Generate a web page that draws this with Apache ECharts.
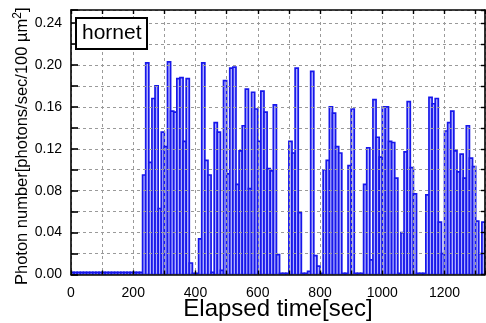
<!DOCTYPE html>
<html>
<head>
<meta charset="utf-8">
<script src="https://cdn.jsdelivr.net/npm/echarts@6/dist/echarts.min.js"></script>
<style>
  html, body { margin: 0; padding: 0; background: #fff; }
  #chart { width: 486px; height: 323px; }
</style>
</head>
<body>
<div id="chart"></div>
<script>
// bin width of the photon counting histogram (sec)
const BIN = 10

// photon number per bin, starting at t = 0 (one row = 100 sec)
const photons = [
  0.002, 0.002, 0.002, 0.002, 0.002, 0.002, 0.002, 0.002, 0.002, 0.002,
  0.002, 0.002, 0.002, 0.002, 0.002, 0.002, 0.002, 0.002, 0.002, 0.002,
  0.002, 0.002, 0.002, 0.095, 0.202, 0.107, 0.168, 0.180, 0.063, 0.136,
  0.122, 0.203, 0.156, 0.155, 0.187, 0.188, 0.127, 0.187, 0.011, 0.001,
  0.001, 0.034, 0.202, 0.109, 0.095, 0.002, 0.145, 0.136, 0.004, 0.185,
  0.096, 0.197, 0.198, 0.086, 0.118, 0.142, 0.177, 0.082, 0.174, 0.158,
  0.127, 0.175, 0.155, 0.101, 0.099, 0.162, 0.019, 0.001, 0.001, 0.001,
  0.127, 0.116, 0.197, 0.059, 0.001, 0.001, 0.003, 0.194, 0.018, 0.008,
  0.001, 0.100, 0.109, 0.160, 0.154, 0.122, 0.116, 0.001, 0.001, 0.104,
  0.158, 0.001, 0.001, 0.001, 0.086, 0.121, 0.014, 0.167, 0.131, 0.112,
  0.160, 0.160, 0.127, 0.126, 0.092, 0.001, 0.040, 0.117, 0.165, 0.102,
  0.077, 0.001, 0.001, 0.001, 0.076, 0.169, 0.163, 0.168, 0.050, 0.020,
  0.137, 0.145, 0.156, 0.118, 0.098, 0.115, 0.092, 0.142, 0.111, 0.103,
  0.051, 0.020, 0.050
]

// axis ranges / ticks
const xMin = 0, xMax = 1330, xStep = 100, xLabelStep = 200
const yMin = 0, yMax = 0.2525, yStep = 0.02, yLabelStep = 0.04

const FONT = '"Liberation Sans", Arial, sans-serif'

const data = photons.map((v, i) => [i * BIN, v])

const chart = echarts.init(document.getElementById('chart'))

const gridLine = { show: true, lineStyle: { color: '#9a9a9a', width: 1, type: [3, 3] } }
const frame = { show: true, onZero: false, lineStyle: { color: '#000', width: 1.6 } }

chart.setOption({
  animation: false,
  backgroundColor: '#fff',
  title: {
    text: 'hornet',
    left: 76,
    top: 18,
    padding: [5, 6, 5, 6],
    borderColor: '#000',
    borderWidth: 2,
    backgroundColor: '#fff',
    textStyle: { fontFamily: FONT, fontSize: 21, fontWeight: 'normal', color: '#000' },
    z: 10
  },
  grid: { left: 71, right: 1, top: 10, bottom: 48.5, outerBoundsMode: 'none', containLabel: false },
  xAxis: [
    {
      type: 'value',
      position: 'bottom',
      min: xMin, max: xMax, interval: xStep,
      z: 3,
      axisLine: frame,
      axisTick: { inside: true, length: 4, lineStyle: { color: '#000', width: 1.4 } },
      axisLabel: {
        color: '#000', fontFamily: FONT, fontSize: 14, margin: 12,
        formatter: v => (v % xLabelStep === 0 ? String(v) : '')
      },
      splitLine: gridLine,
      name: 'Elapsed time[sec]',
      nameLocation: 'middle',
      nameMoveOverlap: false,
      nameGap: 23,
      nameTextStyle: { color: '#000', fontFamily: FONT, fontSize: 24 }
    },
    {
      type: 'value',
      position: 'top',
      min: xMin, max: xMax, interval: xStep,
      z: 3,
      axisLine: frame,
      axisTick: { inside: true, length: 4, lineStyle: { color: '#000', width: 1.4 } },
      axisLabel: { show: false },
      splitLine: { show: false }
    }
  ],
  yAxis: [
    {
      type: 'value',
      position: 'left',
      min: yMin, max: yMax, interval: yStep,
      z: 3,
      axisLine: frame,
      axisTick: { inside: true, length: 7, lineStyle: { color: '#000', width: 1.6 } },
      axisLabel: {
        color: '#000', fontFamily: FONT, fontSize: 14, margin: 9,
        formatter: v => {
          const k = Math.round(v / yStep)
          return (k % 2 === 0 && v <= 0.241) ? v.toFixed(2) : ''
        }
      },
      splitLine: gridLine,
      name: 'Photon number[photons/sec/100 µm{sup|2}]',
      nameLocation: 'middle',
      nameMoveOverlap: false,
      nameGap: 38,
      nameTextStyle: {
        color: '#000', fontFamily: FONT, fontSize: 16.5, lineHeight: 21,
        padding: [0, 8, 0, 0],
        rich: {
          sup: { fontFamily: FONT, fontSize: 12, lineHeight: 12, verticalAlign: 'top', color: '#000' }
        }
      }
    },
    {
      type: 'value',
      position: 'right',
      min: yMin, max: yMax, interval: yStep,
      z: 3,
      axisLine: frame,
      axisTick: { inside: true, length: 4, lineStyle: { color: '#000', width: 1.4 } },
      axisLabel: { show: false },
      splitLine: { show: false }
    }
  ],
  series: [
    {
      type: 'custom',
      xAxisIndex: 0,
      yAxisIndex: 0,
      clip: true,
      encode: { x: 0, y: 1 },
      data: data,
      renderItem(params, api) {
        const t = api.value(0)
        const v = api.value(1)
        const p0 = api.coord([t, 0])
        const p1 = api.coord([t + BIN, v])
        return {
          type: 'rect',
          shape: { x: p0[0], y: p1[1], width: p1[0] - p0[0], height: p0[1] - p1[1] },
          style: { fill: '#b0b0ff', stroke: '#1717ea', lineWidth: 1.7 }
        }
      }
    }
  ]
})
</script>
</body>
</html>
